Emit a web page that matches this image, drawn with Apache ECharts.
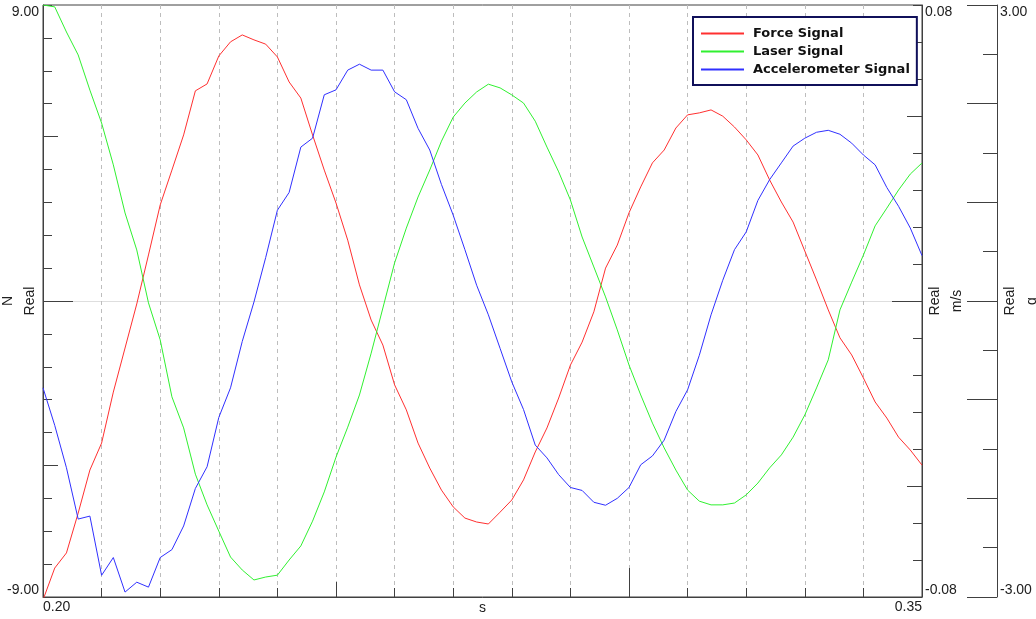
<!DOCTYPE html>
<html><head><meta charset="utf-8">
<script src="https://cdn.jsdelivr.net/npm/echarts@6/dist/echarts.min.js"></script>
<style>html,body{margin:0;padding:0;background:#fff}#c{width:1036px;height:619px}</style>
</head><body><div id="c"></div>
<script>
var times = [0.200,0.202,0.204,0.206,0.208,0.210,0.212,0.214,0.216,0.218,0.220,0.222,0.224,0.226,0.228,0.230,0.232,0.234,0.236,0.238,
0.240,0.242,0.244,0.246,0.248,0.250,0.252,0.254,0.256,0.258,0.260,0.262,0.264,0.266,0.268,0.270,0.272,0.274,0.276,0.278,
0.280,0.282,0.284,0.286,0.288,0.290,0.292,0.294,0.296,0.298,0.300,0.302,0.304,0.306,0.308,0.310,0.312,0.314,0.316,0.318,
0.320,0.322,0.324,0.326,0.328,0.330,0.332,0.334,0.336,0.338,0.340,0.342,0.344,0.346,0.348,0.350];
var forceN = [-9.09,-8.12,-7.66,-6.45,-5.14,-4.32,-2.77,-1.43,-0.09,1.40,2.92,3.98,5.05,6.39,6.60,7.45,7.88,8.09,7.94,7.81,
7.42,6.66,6.17,5.05,3.98,2.98,1.85,0.49,-0.58,-1.34,-2.55,-3.31,-4.32,-5.08,-5.75,-6.26,-6.60,-6.72,-6.78,-6.42,
-6.05,-5.44,-4.59,-3.86,-2.95,-1.95,-1.25,-0.33,1.00,1.70,2.68,3.47,4.20,4.59,5.26,5.66,5.72,5.81,5.62,5.29,
4.90,4.44,3.68,3.01,2.40,1.52,0.64,-0.27,-1.12,-1.64,-2.34,-3.07,-3.56,-4.14,-4.53,-4.99];
var laserMs = [0.0800,0.0795,0.0727,0.0665,0.0570,0.0481,0.0368,0.0238,0.0138,-0.0005,-0.0105,-0.0259,-0.0343,-0.0468,-0.0551,-0.0622,-0.0692,-0.0727,-0.0754,-0.0746,
-0.0741,-0.0700,-0.0662,-0.0595,-0.0516,-0.0422,-0.0341,-0.0254,-0.0141,-0.0019,0.0103,0.0197,0.0281,0.0354,0.0432,0.0497,0.0535,0.0565,0.0586,0.0576,
0.0557,0.0535,0.0486,0.0416,0.0349,0.0273,0.0173,0.0092,0.0011,-0.0078,-0.0173,-0.0254,-0.0330,-0.0397,-0.0457,-0.0511,-0.0541,-0.0551,-0.0551,-0.0546,
-0.0524,-0.0492,-0.0451,-0.0416,-0.0368,-0.0308,-0.0235,-0.0159,-0.0024,0.0051,0.0124,0.0203,0.0251,0.0300,0.0343,0.0373];
var accelG = [-0.88,-1.26,-1.69,-2.21,-2.18,-2.78,-2.60,-2.95,-2.85,-2.90,-2.60,-2.52,-2.28,-1.90,-1.68,-1.18,-0.88,-0.41,-0.01,0.44,
0.92,1.10,1.56,1.65,2.09,2.14,2.34,2.40,2.34,2.34,2.12,2.04,1.75,1.53,1.18,0.87,0.52,0.16,-0.14,-0.48,
-0.82,-1.10,-1.46,-1.59,-1.76,-1.89,-1.92,-2.04,-2.07,-2.00,-1.89,-1.66,-1.57,-1.41,-1.12,-0.90,-0.55,-0.14,0.21,0.52,
0.70,1.02,1.23,1.40,1.57,1.65,1.71,1.73,1.69,1.60,1.48,1.38,1.15,0.96,0.74,0.46];
var seriesNames = ['Force Signal','Laser Signal','Accelerometer Signal'];
var seriesColors = ['#ff3030','#30f030','#3030ff'];
var xTickLabels = {min:'0.20', max:'0.35'};
var nTickLabels = {min:'-9.00', max:'9.00'};
var msTickLabels = {min:'-0.08', max:'0.08'};
var gTickLabels = {min:'-3.00', max:'3.00'};
// medium / major tick positions
var xMidTicks = [0.25], xMajorTicks = [0.30];
var nMidTicks = [-5, 5], nMajorTicks = [0];
var msMidTicks = [-0.05, 0.05], msMajorTicks = [0];

function pairs(v){ return times.map(function(t,i){ return [t, v[i]]; }); }
function edgeFmt(lbl, lo, hi){
  return function(v){ if (Math.abs(v-hi) < 1e-9) return lbl.max; if (Math.abs(v-lo) < 1e-9) return lbl.min; return ''; };
}
var axisColor = '#404040';
var txtColor = '#202020';
var font = 'Liberation Sans';
function tickAxisX(min, max, vals, len){
  return {type:'value', min:min, max:max, position:'bottom', show:true,
    axisLine:{show:false, onZero:false}, axisLabel:{show:false}, splitLine:{show:false},
    axisTick:{show:true, inside:true, length:len, customValues:vals, lineStyle:{color:axisColor}}};
}
function tickAxisY(min, max, pos, vals, len){
  return {type:'value', min:min, max:max, position:pos, show:true,
    axisLine:{show:false, onZero:false}, axisLabel:{show:false}, splitLine:{show:false},
    axisTick:{show:true, inside:true, length:len, customValues:vals, lineStyle:{color:axisColor}}};
}
var chart = echarts.init(document.getElementById('c'), null, {renderer:'canvas'});
chart.setOption({
  animation:false,
  backgroundColor:'#fff',
  grid:{left:43, right:114, top:5, bottom:22, containLabel:false, outerBoundsMode:'none',
        show:true, borderColor:axisColor, borderWidth:1, backgroundColor:'transparent'},
  legend:{
    orient:'vertical', left:693, top:17, data:seriesNames,
    itemWidth:43, itemHeight:14, itemGap:5, padding:[10,7,9,7],
    borderColor:'#10105a', borderWidth:2, backgroundColor:'#fff',
    itemStyle:{opacity:0},
    textStyle:{fontFamily:'DejaVu Sans', fontWeight:'bold', fontSize:13, color:'#111', padding:[0,0,0,4]}
  },
  xAxis:[{
    type:'value', min:0.2, max:0.35, interval:0.01, position:'bottom',
    name:'s', nameLocation:'middle', nameGap:4, nameMoveOverlap:false,
    nameTextStyle:{fontFamily:font, fontSize:14, color:txtColor, verticalAlign:'top'},
    axisLine:{show:true, onZero:false, lineStyle:{color:axisColor}},
    axisTick:{show:true, inside:true, length:9, lineStyle:{color:axisColor}},
    axisLabel:{formatter:edgeFmt(xTickLabels,0.2,0.35), fontFamily:font, fontSize:14, color:txtColor, margin:3, alignMinLabel:'left', alignMaxLabel:'right'},
    splitLine:{show:true, showMinLine:false, showMaxLine:false, lineStyle:{color:'#bdbdbd', type:[4,4], width:1}}
  },
  tickAxisX(0.2, 0.35, xMidTicks, 15),
  tickAxisX(0.2, 0.35, xMajorTicks, 29)],
  yAxis:[
    {type:'value', min:-9, max:9, interval:1, position:'left',
     name:'N\nReal', nameLocation:'middle', nameGap:2, nameRotate:90, nameMoveOverlap:false,
     nameTextStyle:{fontFamily:font, fontSize:14, color:txtColor, lineHeight:22, align:'center'},
     axisLine:{show:true, onZero:false, lineStyle:{color:axisColor}},
     axisTick:{show:true, inside:true, length:9, lineStyle:{color:axisColor}},
     axisLabel:{formatter:edgeFmt(nTickLabels,-9,9), fontFamily:font, fontSize:14, color:txtColor, margin:4, verticalAlignMaxLabel:'top', verticalAlignMinLabel:'bottom'},
     splitLine:{show:false}},
    {type:'value', min:-0.08, max:0.08, interval:0.01, position:'right',
     name:'Real\nm/s', nameLocation:'middle', nameGap:2, nameRotate:90, nameMoveOverlap:false,
     nameTextStyle:{fontFamily:font, fontSize:14, color:txtColor, lineHeight:22, align:'center'},
     axisLine:{show:true, onZero:false, lineStyle:{color:axisColor}},
     axisTick:{show:true, inside:true, length:9, lineStyle:{color:axisColor}},
     axisLabel:{formatter:edgeFmt(msTickLabels,-0.08,0.08), fontFamily:font, fontSize:14, color:txtColor, margin:3, verticalAlignMaxLabel:'top', verticalAlignMinLabel:'bottom'},
     splitLine:{show:false}},
    {type:'value', min:-3, max:3, interval:1, position:'right', offset:75,
     name:'Real\ng', nameLocation:'middle', nameGap:2, nameRotate:90, nameMoveOverlap:false,
     nameTextStyle:{fontFamily:font, fontSize:14, color:txtColor, lineHeight:22, align:'center'},
     axisLine:{show:true, onZero:false, lineStyle:{color:axisColor}},
     axisTick:{show:true, inside:true, length:30, lineStyle:{color:axisColor}},
     minorTick:{show:true, splitNumber:2, length:14, lineStyle:{color:axisColor}},
     axisLabel:{formatter:edgeFmt(gTickLabels,-3,3), fontFamily:font, fontSize:14, color:txtColor, margin:3, verticalAlignMaxLabel:'top', verticalAlignMinLabel:'bottom'},
     splitLine:{show:false}},
    {type:'value', min:-1, max:1, interval:1, position:'left',
     axisLine:{show:false, onZero:false}, axisLabel:{show:false}, axisTick:{show:false},
     splitLine:{show:true, showMinLine:false, showMaxLine:false, lineStyle:{color:'#dedede', width:1}}},
    tickAxisY(-9, 9, 'left', nMidTicks, 15),
    tickAxisY(-9, 9, 'left', nMajorTicks, 30),
    tickAxisY(-0.08, 0.08, 'right', msMidTicks, 15),
    tickAxisY(-0.08, 0.08, 'right', msMajorTicks, 30)
  ],
  series:[
    {name:seriesNames[0], type:'line', yAxisIndex:0, data:pairs(forceN), symbol:'none', lineStyle:{color:seriesColors[0], width:1}, itemStyle:{color:seriesColors[0]}},
    {name:seriesNames[1], type:'line', yAxisIndex:1, data:pairs(laserMs), symbol:'none', lineStyle:{color:seriesColors[1], width:1}, itemStyle:{color:seriesColors[1]}},
    {name:seriesNames[2], type:'line', yAxisIndex:2, data:pairs(accelG), symbol:'none', lineStyle:{color:seriesColors[2], width:1}, itemStyle:{color:seriesColors[2]}}
  ]
});
</script></body></html>
